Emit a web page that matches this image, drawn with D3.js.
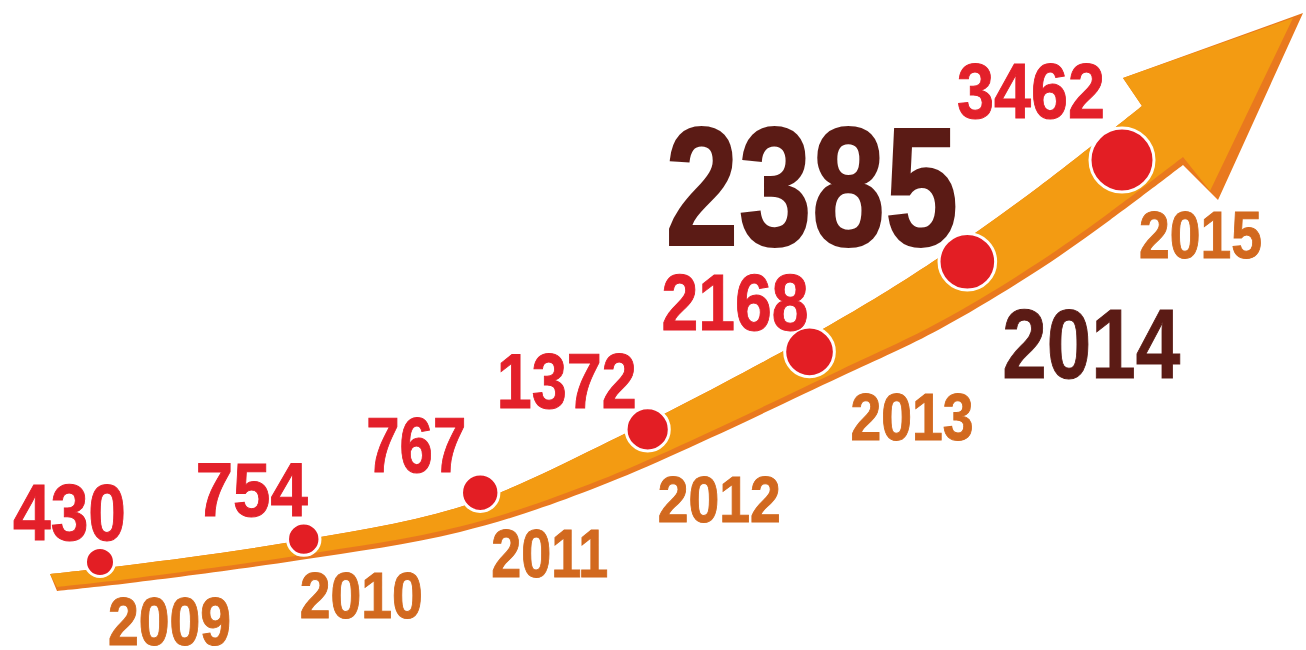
<!DOCTYPE html>
<html>
<head>
<meta charset="utf-8">
<script src="https://cdn.jsdelivr.net/npm/d3@7"></script>
<style>
  html, body { margin: 0; padding: 0; background: #ffffff; }
  svg { display: block; }
  text { font-family: 'Liberation Sans', Arial, sans-serif; font-weight: bold; }
</style>
</head>
<body>
<script>
// ---------------- data ----------------
const years  = ["2009", "2010", "2011", "2012", "2013", "2014", "2015"];
const values = [430, 754, 767, 1372, 2168, 2385, 3462];
const highlightYear = "2014";

// ---------------- layout (not data) ----------------
const W = 1306, H = 650;
const COLORS = {
  band: "#f39b12", stripe: "#e9791e", dot: "#e31e24",
  value: "#e3202a", year: "#d2691f", highlight: "#5b1b15"
};
// label offsets relative to each dot, text widths and font sizes
const valueLayout = [
  {dx: 26,  dy: -22, len: 113, size: 80},
  {dx: 4,   dy: -23, len: 112, size: 76},
  {dx: -14, dy: -21, len: 100, size: 77},
  {dx: -11, dy: -21, len: 140, size: 78},
  {dx: -1,  dy: -22, len: 147, size: 80},
  {dx: -9,  dy: -17, len: 293, size: 168},
  {dx: -17, dy: -42, len: 148, size: 78}
];
const yearLayout = [
  {dx: 8,  dy: 83,  len: 123, size: 69},
  {dx: -4, dy: 79,  len: 123, size: 65},
  {dx: 11, dy: 84,  len: 117, size: 68},
  {dx: 10, dy: 93,  len: 123, size: 64},
  {dx: 41, dy: 88,  len: 123, size: 66},
  {dx: 35, dy: 116, len: 178, size: 98},
  {dx: 17, dy: 98,  len: 123, size: 66}
];

const svg = d3.select("body").append("svg")
  .attr("width", W).attr("height", H)
  .attr("viewBox", `0 0 ${W} ${H}`);

svg.append("rect").attr("width", W).attr("height", H).attr("fill", "#fff");

// ---------------- scales ----------------
const idx = d3.range(years.length);
const last = years.length - 1;
const xScale = d3.scalePow().exponent(0.9).domain([0, last]).range([100, 1122]);
const yScale = d3.scalePow().exponent(1.6).domain([0, last]).range([562, 160]);
const rScale = d3.scalePow().exponent(1.3).domain([0, last]).range([14.5, 32]);

// ---------------- decorative arrow ----------------
const upperEdge = [[50,574],[130,565],[285,543],[460,507],[600,446],[830,325],[940,257],[1040,186],[1142,106]];
const lowerEdge = [[57,591],[130,583],[300,560],[460,532],[600,486],[840,377],[940,329],[1040,269],[1110,220],[1183,165]];
const stripe = x => 4 + 4 * (x - 55) / 1130;
const lowerLight = lowerEdge.map(([x, y], i) => i === lowerEdge.length - 1 ? [x, y - 8] : [x, y - stripe(x)]);

const line = d3.line().curve(d3.curveCatmullRom.alpha(0.5));
const asL = s => s.replace(/^M/, "L");

function arrowPath(upper, head, lower) {
  let p = line(upper);
  p += head.map(([x, y]) => `L${x},${y}`).join("");
  p += asL(line(lower.slice().reverse()));
  return p + "Z";
}

// dark outer shape
svg.append("path")
  .attr("d", arrowPath(upperEdge, [[1123,78],[1303,13],[1218,200]], lowerEdge))
  .attr("fill", COLORS.stripe);
// light inner shape
svg.append("path")
  .attr("d", arrowPath(upperEdge, [[1123,78],[1293,18],[1210,191]], lowerLight))
  .attr("fill", COLORS.band);

// ---------------- dots ----------------
svg.append("g").selectAll("circle")
  .data(idx)
  .join("circle")
  .attr("cx", i => xScale(i))
  .attr("cy", i => yScale(i))
  .attr("r", i => rScale(i))
  .attr("fill", COLORS.dot)
  .attr("stroke", "#fff")
  .attr("stroke-width", 3);

// ---------------- value labels ----------------
svg.append("g").selectAll("text")
  .data(idx)
  .join("text")
  .attr("x", i => xScale(i) + valueLayout[i].dx)
  .attr("y", i => yScale(i) + valueLayout[i].dy)
  .attr("text-anchor", "end")
  .attr("font-size", i => valueLayout[i].size)
  .attr("textLength", i => valueLayout[i].len)
  .attr("lengthAdjust", "spacingAndGlyphs")
  .attr("fill", i => years[i] === highlightYear ? COLORS.highlight : COLORS.value)
  .attr("stroke", i => years[i] === highlightYear ? COLORS.highlight : COLORS.value)
  .attr("stroke-width", i => years[i] === highlightYear ? 2 : 1)
  .text(i => values[i]);

// ---------------- year labels ----------------
svg.append("g").selectAll("text")
  .data(idx)
  .join("text")
  .attr("x", i => xScale(i) + yearLayout[i].dx)
  .attr("y", i => yScale(i) + yearLayout[i].dy)
  .attr("text-anchor", "start")
  .attr("font-size", i => yearLayout[i].size)
  .attr("textLength", i => yearLayout[i].len)
  .attr("lengthAdjust", "spacingAndGlyphs")
  .attr("fill", i => years[i] === highlightYear ? COLORS.highlight : COLORS.year)
  .attr("stroke", i => years[i] === highlightYear ? COLORS.highlight : COLORS.year)
  .attr("stroke-width", 1)
  .text(i => years[i]);
</script>
</body>
</html>
